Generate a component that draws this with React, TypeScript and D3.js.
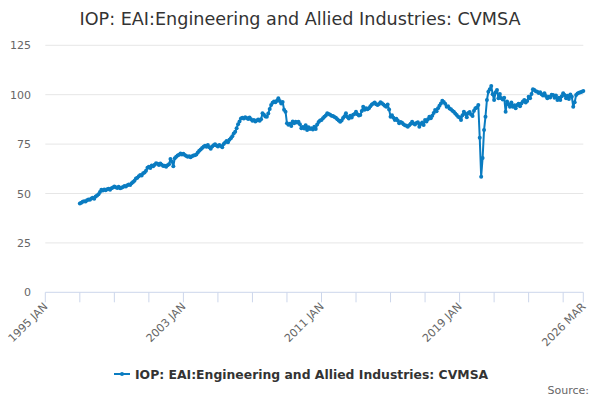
// IOP: EAI Engineering and Allied Industries (CVMSA) line chart
import React from 'react';
import * as d3 from 'd3';

const title = 'IOP: EAI:Engineering and Allied Industries: CVMSA';
const seriesName = 'IOP: EAI:Engineering and Allied Industries: CVMSA';
const monthNames = ['JAN', 'FEB', 'MAR', 'APR', 'MAY', 'JUN', 'JUL', 'AUG', 'SEP', 'OCT', 'NOV', 'DEC'];

// axis runs 1995 JAN .. 2026 MAR, data starts 1997 JAN
const axisStart = { year: 1995, month: 0 };
const axisEnd = { year: 2026, month: 2 };
const dataStart = { year: 1997, month: 0 };

const yTicks = [0, 25, 50, 75, 100, 125];
const labelledTicks = ['1995 JAN', '2003 JAN', '2011 JAN', '2019 JAN', '2026 MAR'];

// monthly values, 1997 JAN onwards
const values: number[] = [
  // 1997
  45.0, 45.3, 45.8, 46.1, 45.9, 46.6, 47.0, 46.8, 47.5, 47.9, 47.4, 48.5,
  // 1998
  49.0, 49.6, 50.8, 51.9, 51.5, 52.0, 51.7, 52.1, 52.4, 51.9, 52.6, 53.0,
  // 1999
  53.6, 53.2, 52.8, 53.4, 52.6, 52.9, 53.3, 53.8, 53.5, 54.2, 54.6, 54.3,
  // 2000
  55.2, 55.8, 56.5, 57.6, 58.0, 58.7, 59.4, 59.1, 60.2, 60.6, 61.5, 63.0,
  // 2001
  63.6, 62.9, 64.2, 63.8, 64.6, 65.3, 65.0, 64.4, 65.2, 64.6, 63.9, 64.1,
  // 2002
  63.6, 64.3, 64.8, 67.5, 66.2, 63.8, 67.9, 68.6, 69.2, 69.6, 70.2, 69.8,
  // 2003
  70.1, 69.5, 69.0, 68.6, 68.9, 68.4, 68.8, 69.2, 69.4, 69.7, 70.8, 71.6,
  // 2004
  72.3, 73.0, 73.6, 74.2, 73.7, 74.5, 73.4, 72.6, 73.8, 74.4, 74.9, 74.3,
  // 2005
  73.8, 74.6, 74.1, 73.4, 75.0, 75.8, 76.6, 75.9, 77.2, 77.9, 79.0, 80.4,
  // 2006
  81.3, 83.0, 85.1, 86.4, 87.9, 88.3, 88.0, 88.6, 88.2, 87.7, 88.4, 87.6,
  // 2007
  86.8, 87.2, 86.5, 86.9, 87.4, 86.8, 87.6, 90.6, 89.8, 89.0, 88.9, 90.5,
  // 2008
  92.8, 94.8, 95.9, 96.5, 96.2, 97.0, 98.2, 96.8, 95.6, 96.3, 92.4, 91.4,
  // 2009
  85.5, 84.8, 85.3, 84.2, 86.5, 85.6, 86.3, 85.9, 86.3, 85.1, 83.0, 83.7,
  // 2010
  82.9, 84.5, 82.1, 83.5, 82.6, 83.0, 82.4, 83.8, 82.7, 84.9, 86.2, 87.0,
  // 2011
  87.2, 88.1, 88.9, 89.5, 90.6, 90.2, 89.8, 89.4, 89.2, 88.7, 88.3, 87.6,
  // 2012
  86.9, 86.3, 87.0, 88.2, 89.1, 90.6, 88.7, 88.0, 89.3, 88.5, 89.9, 90.2,
  // 2013
  91.4, 90.1, 89.5, 89.7, 91.8, 93.9, 92.4, 93.1, 92.6, 93.1, 94.2, 95.0,
  // 2014
  95.5, 96.0, 95.2, 94.8, 95.3, 96.2, 95.7, 95.1, 94.4, 93.9, 95.0, 92.5,
  // 2015
  88.9, 89.6, 88.3, 87.2, 87.8, 86.9, 85.5, 86.2, 85.8, 85.1, 84.6, 84.3,
  // 2016
  83.8, 84.5, 85.3, 86.3, 85.4, 84.9, 85.7, 86.1, 83.8, 85.2, 85.9, 84.7,
  // 2017
  87.2, 86.4, 87.6, 88.9, 88.1, 89.4, 90.7, 92.3, 91.6, 93.2, 94.4, 95.6,
  // 2018
  97.0, 96.3, 95.4, 93.9, 94.1, 93.0, 92.6, 91.9, 91.4, 90.5, 89.7, 88.9,
  // 2019
  88.4, 87.2, 89.6, 91.4, 90.3, 88.6, 90.8, 91.2, 90.0, 89.2, 91.9, 93.1,
  // 2020
  93.5, 94.8, 78.2, 58.5, 68.0, 82.1, 88.9, 97.3, 101.5, 102.8, 104.4, 100.2,
  // 2021
  97.3, 101.2, 102.4, 98.2, 100.3, 98.2, 97.6, 98.5, 91.4, 96.5, 95.2, 93.9,
  // 2022
  96.0, 93.9, 94.6, 93.1, 94.8, 95.4, 94.2, 95.6, 96.5, 97.3, 96.0, 96.8,
  // 2023
  99.0, 98.2, 100.4, 102.7, 102.4, 101.8, 101.5, 100.9, 101.2, 100.2, 99.6, 100.7,
  // 2024
  99.4, 98.2, 99.0, 98.6, 100.0, 99.8, 98.4, 99.6, 97.3, 98.5, 97.3, 99.2,
  // 2025
  100.7, 99.8, 98.2, 99.5, 97.8, 100.1, 99.0, 93.9, 96.2, 99.8, 100.6, 101.0,
  // 2026
  101.2, 101.5, 101.9,
];

const monthIndex = (p: { year: number; month: number }) =>
  (p.year - axisStart.year) * 12 + (p.month - axisStart.month);

const labelFor = (i: number) => {
  const y = axisStart.year + Math.floor(i / 12);
  return `${y} ${monthNames[i % 12]}`;
};

const font = '"DejaVu Sans", Verdana, sans-serif';
const lineColor = '#0a7cc1';

const App: React.FC = () => {
  const width = 600;
  const height = 400;
  const margin = { top: 45.3, right: 16.7, bottom: 107.7, left: 45.3 };

  const lastIdx = monthIndex(axisEnd);
  const x = d3.scaleLinear().domain([0, lastIdx]).range([margin.left, width - margin.right]);
  const y = d3.scaleLinear().domain([0, 125]).range([height - margin.bottom, margin.top]);

  const first = monthIndex(dataStart);
  const points = values.map((v, i) => ({ i: first + i, v }));

  const line = d3.line<{ i: number; v: number }>()
    .x((d) => x(d.i))
    .y((d) => y(d.v));

  // ticks every 24 months, plus final month
  const tickIdx: number[] = d3.range(0, lastIdx, 24);
  tickIdx.push(lastIdx);

  const baseY = y(0);

  return (
    <svg width={width} height={height} style={{ position: 'absolute', left: 0, top: 0, fontFamily: font }}>
      <rect width={width} height={height} fill="#ffffff" />
      <text x={300} y={25} textAnchor="middle" fontSize={17.6} fill="#333333">{title}</text>

      {yTicks.map((t) => (
        <g key={t}>
          {t > 0 && (
            <line x1={margin.left} x2={width - margin.right} y1={y(t)} y2={y(t)} stroke="#e6e6e6" strokeWidth={1} />
          )}
          <text x={31} y={y(t) + 4} textAnchor="end" fontSize={11} fill="#666666">{t}</text>
        </g>
      ))}

      <line x1={margin.left} x2={width - margin.right} y1={baseY} y2={baseY} stroke="#ccd6eb" strokeWidth={1} />
      {tickIdx.map((t) => (
        <line key={t} x1={x(t)} x2={x(t)} y1={baseY} y2={baseY + 10} stroke="#ccd6eb" strokeWidth={1} />
      ))}
      {tickIdx
        .filter((t) => labelledTicks.includes(labelFor(t)))
        .map((t) => (
          <text
            key={t}
            transform={`translate(${x(t) + 3},${baseY + 15}) rotate(-45)`}
            textAnchor="end"
            fontSize={11}
            fill="#666666"
          >
            {labelFor(t)}
          </text>
        ))}

      <path d={line(points) ?? ''} fill="none" stroke={lineColor} strokeWidth={2} strokeLinejoin="round" />
      {points.map((d) => (
        <circle key={d.i} cx={x(d.i)} cy={y(d.v)} r={2} fill={lineColor} />
      ))}

      <g>
        <line x1={114} x2={130} y1={374} y2={374} stroke={lineColor} strokeWidth={2} />
        <circle cx={122} cy={374} r={2} fill={lineColor} />
        <text x={135} y={378.5} fontSize={12.4} fontWeight="bold" fill="#333333">{seriesName}</text>
      </g>

      <text x={589} y={394} textAnchor="end" fontSize={11} fill="#666666">Source:</text>
    </svg>
  );
};

export default App;
